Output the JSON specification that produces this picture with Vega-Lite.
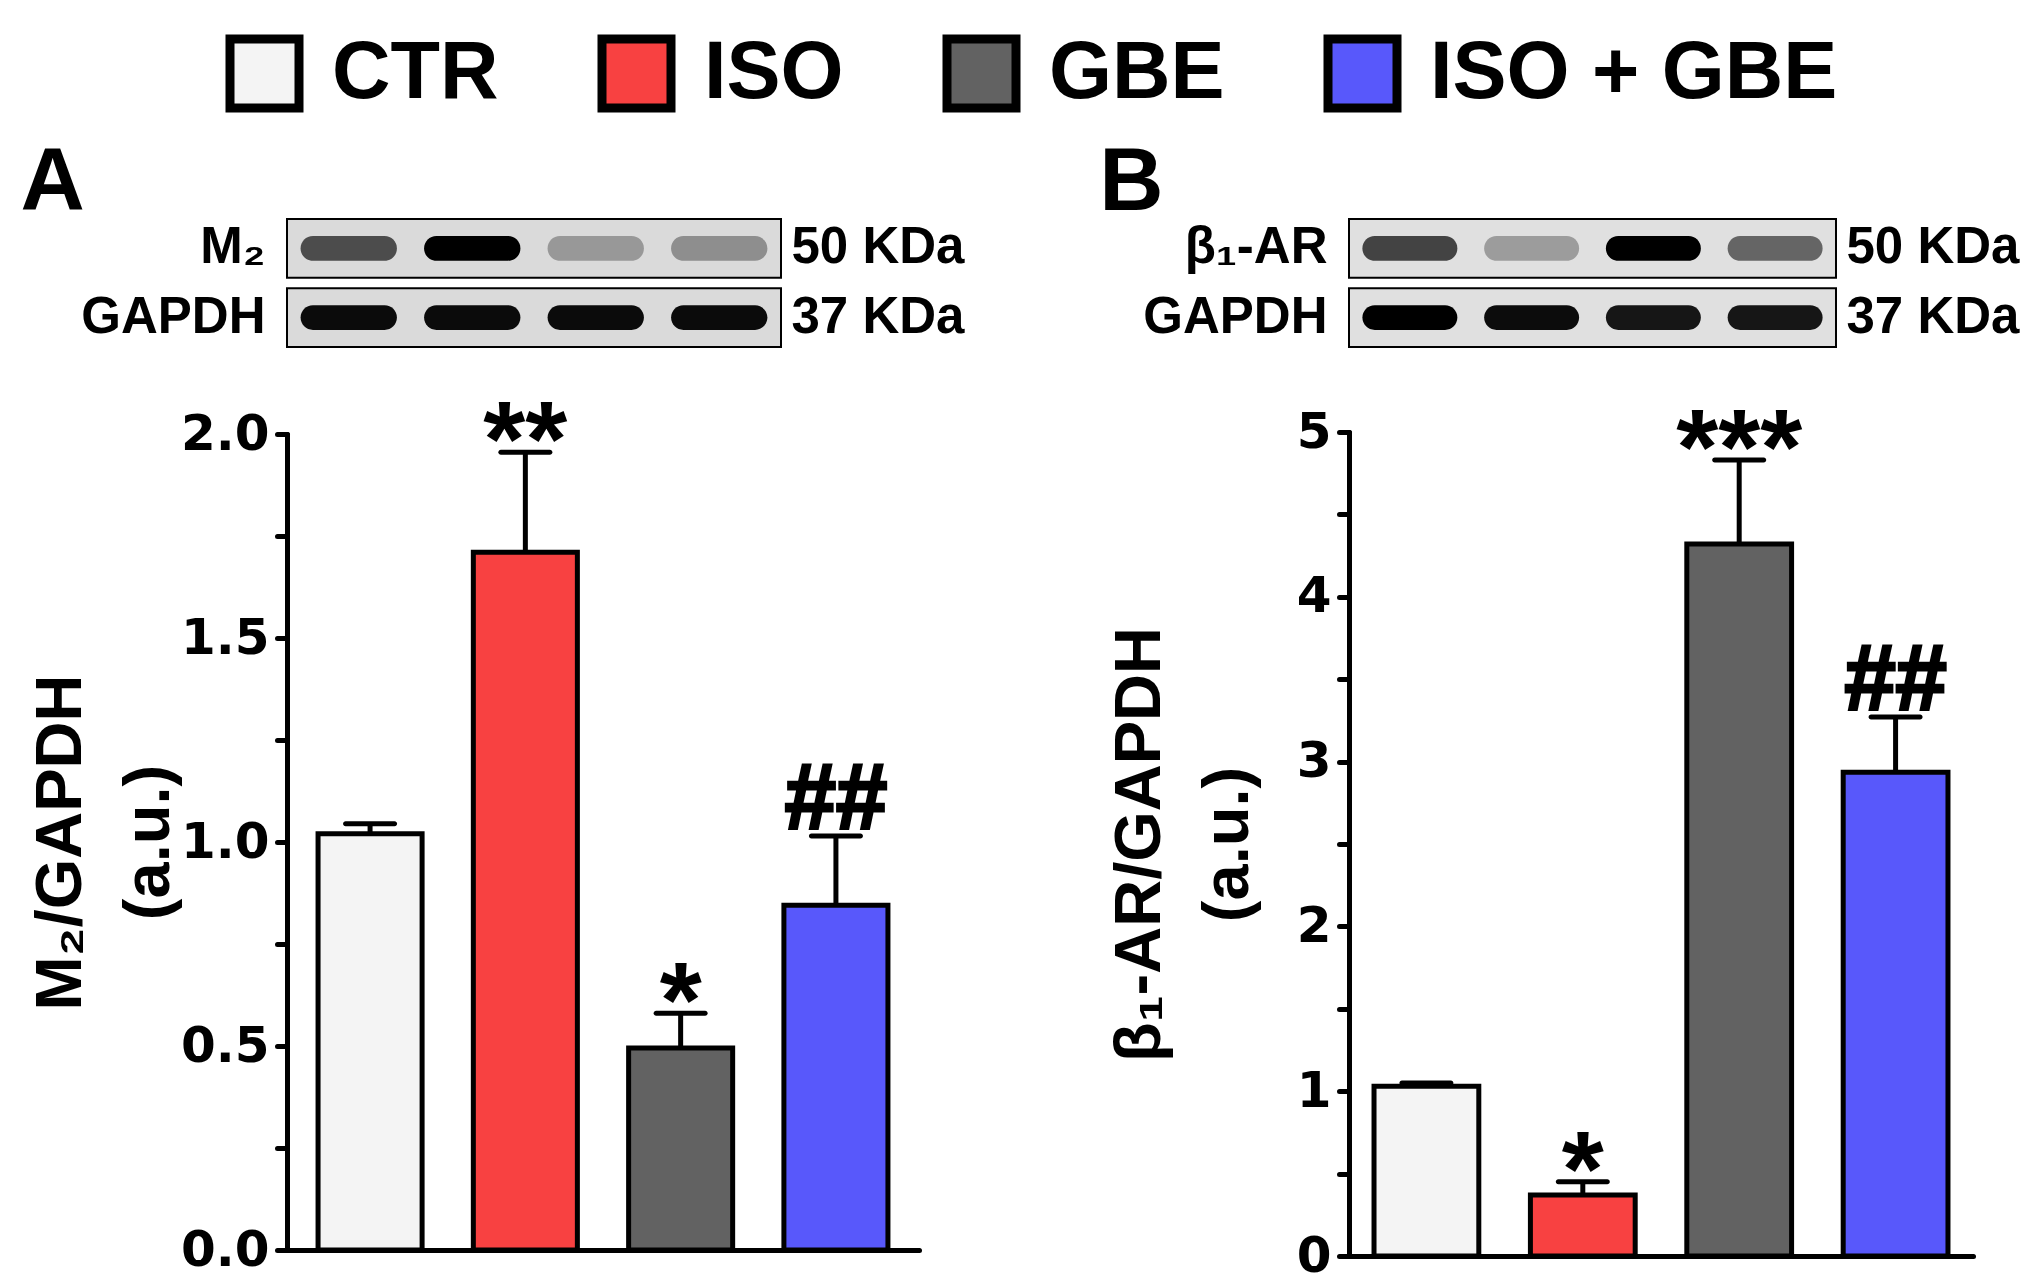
{
  "$schema": "https://vega.github.io/schema/vega-lite/v6.json",
  "description": "M2 and beta1-AR expression normalised to GAPDH, with western blots, for CTR, ISO, GBE and ISO + GBE.",
  "background": "white",
  "padding": {"left": 20, "top": 33, "right": 5, "bottom": 5},
  "config": {
    "font": "Liberation Sans",
    "view": {"stroke": null},
    "axis": {
      "grid": false,
      "labelFont": "Liberation Sans",
      "labelFontWeight": "bold",
      "labelColor": "black",
      "titleFont": "Liberation Sans",
      "titleFontWeight": "bold",
      "titleColor": "black",
      "domainColor": "black",
      "tickColor": "black"
    },
    "title": {"font": "Liberation Sans", "fontWeight": "bold", "color": "black"}
  },
  "datasets": {
    "m2": [
      {"group": "CTR", "value": 1.02, "upper": 1.045, "sig": ""},
      {"group": "ISO", "value": 1.71, "upper": 1.955, "sig": "**"},
      {"group": "GBE", "value": 0.495, "upper": 0.58, "sig": "*"},
      {"group": "ISO + GBE", "value": 0.845, "upper": 1.015, "sig": "##"}
    ],
    "b1": [
      {"group": "CTR", "value": 1.03, "upper": 1.05, "sig": ""},
      {"group": "ISO", "value": 0.37, "upper": 0.45, "sig": "*"},
      {"group": "GBE", "value": 4.32, "upper": 4.83, "sig": "***"},
      {"group": "ISO + GBE", "value": 2.935, "upper": 3.27, "sig": "##"}
    ],
    "blotA": [
      {"lane": "CTR", "target": "M₂", "intensity": 0.65},
      {"lane": "ISO", "target": "M₂", "intensity": 1.0},
      {"lane": "GBE", "target": "M₂", "intensity": 0.3},
      {"lane": "ISO + GBE", "target": "M₂", "intensity": 0.35},
      {"lane": "CTR", "target": "GAPDH", "intensity": 0.95},
      {"lane": "ISO", "target": "GAPDH", "intensity": 0.95},
      {"lane": "GBE", "target": "GAPDH", "intensity": 0.95},
      {"lane": "ISO + GBE", "target": "GAPDH", "intensity": 0.95}
    ],
    "blotB": [
      {"lane": "CTR", "target": "β₁-AR", "intensity": 0.7},
      {"lane": "ISO", "target": "β₁-AR", "intensity": 0.3},
      {"lane": "GBE", "target": "β₁-AR", "intensity": 1.0},
      {"lane": "ISO + GBE", "target": "β₁-AR", "intensity": 0.55},
      {"lane": "CTR", "target": "GAPDH", "intensity": 1.0},
      {"lane": "ISO", "target": "GAPDH", "intensity": 0.95},
      {"lane": "GBE", "target": "GAPDH", "intensity": 0.9},
      {"lane": "ISO + GBE", "target": "GAPDH", "intensity": 0.9}
    ]
  },
  "bounds": "flush",
  "spacing": 1062,
  "hconcat": [
    {
      "title": {"text": "A", "anchor": "start", "fontSize": 89, "offset": -81, "baseline": "alphabetic", "dx": -8},
      "bounds": "flush",
      "spacing": 87,
      "vconcat": [
        {
          "width": 494,
          "height": 128,
          "data": {"name": "blotA"},
          "layer": [
            {
              "transform": [{"filter": "datum.lane === 'CTR'"}],
              "mark": {"type": "rect", "fill": "#dadada", "stroke": "black", "strokeWidth": 2},
              "encoding": {
                "y": {
                  "field": "target", "type": "nominal", "sort": ["M₂", "GAPDH"],
                  "scale": {"paddingInner": 0.15, "paddingOuter": 0},
                  "axis": {"orient": "left", "title": null, "domain": false, "ticks": false, "labelFontSize": 51, "labelPadding": 22, "labelLimit": 0}
                }
              }
            },
            {
              "mark": {"type": "rect", "fill": "black", "cornerRadius": 16, "width": {"band": 0.78}, "height": {"band": 0.42}},
              "encoding": {
                "x": {
                  "field": "lane", "type": "nominal", "sort": ["CTR", "ISO", "GBE", "ISO + GBE"],
                  "scale": {"paddingInner": 0, "paddingOuter": 0}, "axis": null
                },
                "y": {
                  "field": "target", "type": "nominal", "sort": ["M₂", "GAPDH"],
                  "axis": {"orient": "right", "title": null, "domain": false, "ticks": false, "labelFontSize": 51, "labelPadding": 10, "labelLimit": 0,
                    "labelExpr": "datum.value === 'GAPDH' ? '37 KDa' : '50 KDa'"}
                },
                "opacity": {"field": "intensity", "type": "quantitative", "scale": {"domain": [0, 1], "range": [0, 1]}, "legend": null}
              }
            }
          ],
          "resolve": {"axis": {"y": "independent"}}
        },
        {
          "width": 632,
          "height": 816,
          "data": {"name": "m2"},
          "encoding": {
            "x": {
              "field": "group", "type": "nominal", "sort": ["CTR", "ISO", "GBE", "ISO + GBE"],
              "scale": {"paddingInner": 0.33, "paddingOuter": 0.2},
              "axis": {"title": null, "labels": false, "ticks": false, "domainWidth": 5, "domainCap": "round"}
            }
          },
          "layer": [
            {
              "mark": {"type": "bar", "stroke": "black", "strokeWidth": 5},
              "encoding": {
                "y": {
                  "field": "value", "type": "quantitative",
                  "scale": {"domain": [0, 2], "nice": false},
                  "axis": {
                    "title": ["M₂/GAPDH", "(a.u.)"],
                    "values": [0, 0.25, 0.5, 0.75, 1, 1.25, 1.5, 1.75, 2],
                    "labelExpr": "datum.value % 0.5 === 0 ? format(datum.value, '.1f') : ''",
                    "domainWidth": 5, "domainCap": "round", "tickWidth": 5, "tickSize": 10, "tickCap": "round",
                    "labelFont": "DejaVu Sans", "labelFontSize": 50, "labelPadding": 8,
                    "titleFontSize": 65, "titleLineHeight": 88, "titlePadding": -2
                  }
                },
                "color": {
                  "field": "group", "type": "nominal",
                  "scale": {"domain": ["CTR", "ISO", "GBE", "ISO + GBE"], "range": ["#f4f4f4", "#f84141", "#626262", "#5858fb"]},
                  "legend": {
                    "title": null, "orient": "none", "legendX": -63, "legendY": -186,
                    "direction": "horizontal", "columns": 4,
                    "symbolType": "square", "symbolSize": 4761, "symbolStrokeColor": "black", "symbolStrokeWidth": 9, "symbolOpacity": 1,
                    "labelFontSize": 81, "labelFontWeight": "bold", "labelColor": "black", "labelOffset": 27, "labelLimit": 0,
                    "columnPadding": 85
                  }
                }
              }
            },
            {
              "mark": {"type": "rule", "strokeWidth": 5, "color": "black"},
              "encoding": {"y": {"field": "value", "type": "quantitative"}, "y2": {"field": "upper"}}
            },
            {
              "mark": {"type": "tick", "orient": "horizontal", "size": 54, "thickness": 5, "color": "black", "cornerRadius": 2.5, "opacity": 1},
              "encoding": {"y": {"field": "upper", "type": "quantitative"}}
            },
            {
              "transform": [{"filter": "indexof(datum.sig, '*') >= 0"}],
              "mark": {"type": "text", "fontSize": 108, "fontWeight": "bold", "baseline": "alphabetic", "dy": 24, "color": "black"},
              "encoding": {"y": {"field": "upper", "type": "quantitative"}, "text": {"field": "sig"}}
            },
            {
              "transform": [{"filter": "indexof(datum.sig, '#') >= 0"}],
              "mark": {"type": "text", "fontSize": 92, "fontWeight": "bold", "baseline": "alphabetic", "dy": -8, "color": "black", "stroke": "black", "strokeWidth": 3},
              "encoding": {"y": {"field": "upper", "type": "quantitative"}, "text": {"field": "sig"}}
            }
          ]
        }
      ]
    },
    {
      "title": {"text": "B", "anchor": "start", "fontSize": 89, "offset": -81, "baseline": "alphabetic", "dx": -8},
      "bounds": "flush",
      "spacing": 85,
      "vconcat": [
        {
          "width": 487,
          "height": 128,
          "data": {"name": "blotB"},
          "layer": [
            {
              "transform": [{"filter": "datum.lane === 'CTR'"}],
              "mark": {"type": "rect", "fill": "#e0e0e0", "stroke": "black", "strokeWidth": 2},
              "encoding": {
                "y": {
                  "field": "target", "type": "nominal", "sort": ["β₁-AR", "GAPDH"],
                  "scale": {"paddingInner": 0.15, "paddingOuter": 0},
                  "axis": {"orient": "left", "title": null, "domain": false, "ticks": false, "labelFontSize": 51, "labelPadding": 22, "labelLimit": 0}
                }
              }
            },
            {
              "mark": {"type": "rect", "fill": "black", "cornerRadius": 16, "width": {"band": 0.78}, "height": {"band": 0.42}},
              "encoding": {
                "x": {
                  "field": "lane", "type": "nominal", "sort": ["CTR", "ISO", "GBE", "ISO + GBE"],
                  "scale": {"paddingInner": 0, "paddingOuter": 0}, "axis": null
                },
                "y": {
                  "field": "target", "type": "nominal", "sort": ["β₁-AR", "GAPDH"],
                  "axis": {"orient": "right", "title": null, "domain": false, "ticks": false, "labelFontSize": 51, "labelPadding": 10, "labelLimit": 0,
                    "labelExpr": "datum.value === 'GAPDH' ? '37 KDa' : '50 KDa'"}
                },
                "opacity": {"field": "intensity", "type": "quantitative", "scale": {"domain": [0, 1], "range": [0, 1]}, "legend": null}
              }
            }
          ],
          "resolve": {"axis": {"y": "independent"}}
        },
        {
          "width": 624,
          "height": 824,
          "data": {"name": "b1"},
          "encoding": {
            "x": {
              "field": "group", "type": "nominal", "sort": ["CTR", "ISO", "GBE", "ISO + GBE"],
              "scale": {"paddingInner": 0.33, "paddingOuter": 0.16},
              "axis": {"title": null, "labels": false, "ticks": false, "domainWidth": 5, "domainCap": "round"}
            }
          },
          "layer": [
            {
              "mark": {"type": "bar", "stroke": "black", "strokeWidth": 5},
              "encoding": {
                "y": {
                  "field": "value", "type": "quantitative",
                  "scale": {"domain": [0, 5], "nice": false},
                  "axis": {
                    "title": ["β₁-AR/GAPDH", "(a.u.)"],
                    "values": [0, 0.5, 1, 1.5, 2, 2.5, 3, 3.5, 4, 4.5, 5],
                    "labelExpr": "datum.value % 1 === 0 ? format(datum.value, 'd') : ''",
                    "domainWidth": 5, "domainCap": "round", "tickWidth": 5, "tickSize": 10, "tickCap": "round",
                    "labelFont": "DejaVu Sans", "labelFontSize": 50, "labelPadding": 8,
                    "titleFontSize": 65, "titleLineHeight": 88, "titlePadding": 35
                  }
                },
                "color": {"field": "group", "type": "nominal"}
              }
            },
            {
              "mark": {"type": "rule", "strokeWidth": 5, "color": "black"},
              "encoding": {"y": {"field": "value", "type": "quantitative"}, "y2": {"field": "upper"}}
            },
            {
              "mark": {"type": "tick", "orient": "horizontal", "size": 54, "thickness": 5, "color": "black", "cornerRadius": 2.5, "opacity": 1},
              "encoding": {"y": {"field": "upper", "type": "quantitative"}}
            },
            {
              "transform": [{"filter": "indexof(datum.sig, '*') >= 0"}],
              "mark": {"type": "text", "fontSize": 108, "fontWeight": "bold", "baseline": "alphabetic", "dy": 24, "color": "black"},
              "encoding": {"y": {"field": "upper", "type": "quantitative"}, "text": {"field": "sig"}}
            },
            {
              "transform": [{"filter": "indexof(datum.sig, '#') >= 0"}],
              "mark": {"type": "text", "fontSize": 92, "fontWeight": "bold", "baseline": "alphabetic", "dy": -8, "color": "black", "stroke": "black", "strokeWidth": 3},
              "encoding": {"y": {"field": "upper", "type": "quantitative"}, "text": {"field": "sig"}}
            }
          ]
        }
      ]
    }
  ],
  "resolve": {"scale": {"color": "shared"}}
}
